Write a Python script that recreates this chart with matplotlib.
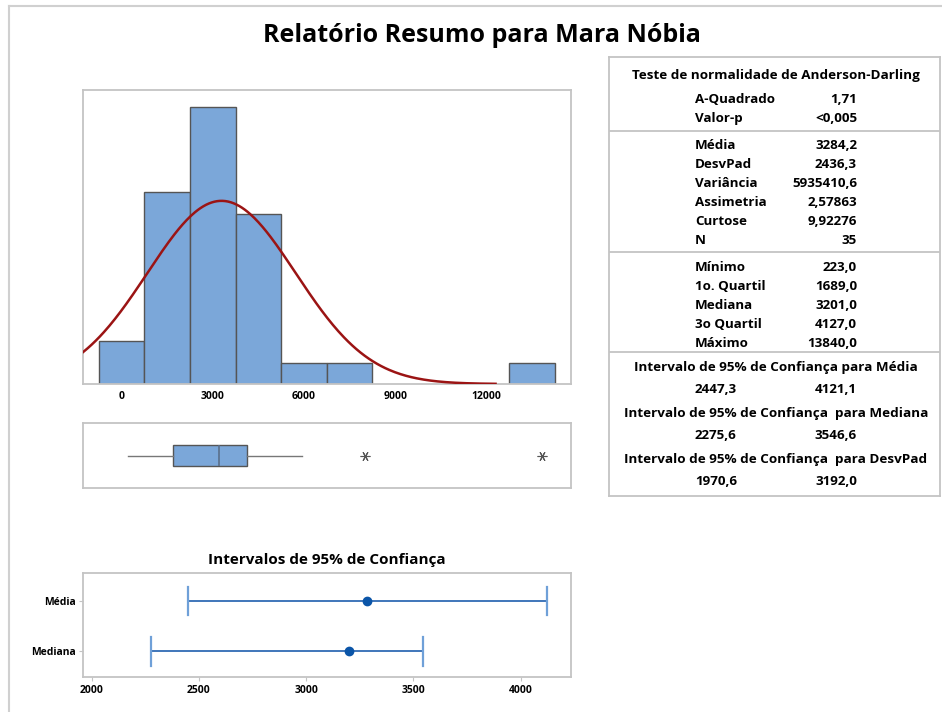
import numpy as np
import matplotlib
matplotlib.use("Agg")
import matplotlib.pyplot as plt
from matplotlib.lines import Line2D

plt.rcParams['font.family'] = ['Open Sans', 'DejaVu Sans']

W, H = 942, 712
BAR_COLOR = '#7ba7d9'
EDGE_COLOR = '#555555'
CURVE_COLOR = '#9b1414'
CI_LINE = '#1f5fae'
CI_DOT = '#0b55a8'
FRAME = '#c4c4c4'
WEIGHT = 'bold'

# histogram (bin width 1500)
bin_centers = [0, 1500, 3000, 4500, 6000, 7500, 13500]
bin_counts = [2, 9, 13, 8, 1, 1, 1]
bin_width = 1500
hist_ticks = [0, 3000, 6000, 9000, 12000]

# summary stats
n_obs = 35
mean_val = 3284.2
sd_val = 2436.3
box_min = 223.0
box_q1 = 1689.0
box_med = 3201.0
box_q3 = 4127.0
box_whishi = 5930.0
box_outliers = [8000.0, 13840.0]

# confidence intervals
ci_labels = ['Média', 'Mediana']
ci_centers = [3284.2, 3201.0]
ci_low = [2447.3, 2275.6]
ci_high = [4121.1, 3546.6]
ci_ticks = [2000, 2500, 3000, 3500, 4000]

# table text
ad_labels = ['A-Quadrado', 'Valor-p']
ad_values = ['1,71', '<0,005']
mom_labels = ['Média', 'DesvPad', 'Variância', 'Assimetria', 'Curtose', 'N']
mom_values = ['3284,2', '2436,3', '5935410,6', '2,57863', '9,92276', '35']
q_labels = ['Mínimo', '1o. Quartil', 'Mediana', '3o Quartil', 'Máximo']
q_values = ['223,0', '1689,0', '3201,0', '4127,0', '13840,0']
ci_titles = ['Intervalo de 95% de Confiança para Média',
             'Intervalo de 95% de Confiança  para Mediana',
             'Intervalo de 95% de Confiança  para DesvPad']
ci_pairs = [('2447,3', '4121,1'), ('2275,6', '3546,6'), ('1970,6', '3192,0')]


def px_axes(fig, x0, y0, x1, y1):
    # pixel box (top-left origin) -> figure axes
    return fig.add_axes([x0 / W, 1 - y1 / H, (x1 - x0) / W, (y1 - y0) / H])


def style_spines(ax):
    for s in ax.spines.values():
        s.set_color(FRAME)
        s.set_linewidth(1.3)


fig = plt.figure(figsize=(W / 100, H / 100), dpi=100)

# outer frame lines
fig.add_artist(Line2D([8.5 / W, 1], [1 - 6 / H, 1 - 6 / H], color='#d0d0d0', lw=1.5))
fig.add_artist(Line2D([8.5 / W, 8.5 / W], [0, 1 - 6 / H], color='#d0d0d0', lw=1.5))

fig.text(482 / W, 1 - 36 / H, 'Relatório Resumo para Mara Nóbia',
         ha='center', va='center', fontsize=18, fontweight=WEIGHT)

xlim = (-1263, 14782)

# histogram
ax_h = px_axes(fig, 83.3, 90, 571, 384)
ax_h.bar(bin_centers, bin_counts, width=bin_width, color=BAR_COLOR,
         edgecolor=EDGE_COLOR, linewidth=1.0, zorder=2)
xs = np.linspace(xlim[0], 12300, 300)
pdf = np.exp(-0.5 * ((xs - mean_val) / sd_val) ** 2) / (sd_val * np.sqrt(2 * np.pi))
ax_h.plot(xs, pdf * n_obs * bin_width, color=CURVE_COLOR, lw=1.8, zorder=3)
ax_h.set_xlim(xlim)
ax_h.set_ylim(0, 13.8)
ax_h.set_yticks([])
ax_h.set_xticks(hist_ticks)
ax_h.set_xticklabels([str(t) for t in hist_ticks])
ax_h.tick_params(axis='x', length=0, pad=5, labelsize=7.5)
for lbl in ax_h.get_xticklabels():
    lbl.set_fontweight(WEIGHT)
style_spines(ax_h)

# boxplot
ax_b = px_axes(fig, 83.3, 423.3, 571, 487.7)
stats = [dict(whislo=box_min, q1=box_q1, med=box_med, q3=box_q3,
              whishi=box_whishi, fliers=box_outliers)]
ax_b.bxp(stats, positions=[1], widths=0.68, vert=False, patch_artist=True,
         showcaps=False,
         boxprops=dict(facecolor=BAR_COLOR, edgecolor=EDGE_COLOR, linewidth=1.0),
         medianprops=dict(color='#5a6f8a', linewidth=1.2),
         whiskerprops=dict(color='#777777', linewidth=1.0),
         flierprops=dict(marker=(6, 2, 90), markersize=7, markeredgecolor='#555555',
                         markeredgewidth=0.8))
ax_b.set_xlim(xlim)
ax_b.set_ylim(0, 2)
ax_b.set_xticks([])
ax_b.set_yticks([])
style_spines(ax_b)

# confidence intervals plot
fig.text(327 / W, 1 - 560 / H, 'Intervalos de 95% de Confiança',
         ha='center', va='center', fontsize=11, fontweight=WEIGHT)
ax_c = px_axes(fig, 83.3, 573.3, 571, 676.7)
ypos = [1, 0]
for y, c, lo, hi in zip(ypos, ci_centers, ci_low, ci_high):
    ax_c.plot([lo, hi], [y, y], color=CI_LINE, lw=1.2, zorder=2)
    ax_c.plot([lo, lo], [y - 0.28, y + 0.28], color='#6fa0d8', lw=1.6, zorder=2)
    ax_c.plot([hi, hi], [y - 0.28, y + 0.28], color='#6fa0d8', lw=1.6, zorder=2)
    ax_c.plot([c], [y], 'o', color=CI_DOT, markersize=6, zorder=3)
ax_c.set_xlim(1961, 4235)
ax_c.set_ylim(-0.5, 1.55)
ax_c.set_yticks(ypos)
ax_c.set_yticklabels(ci_labels)
ax_c.set_xticks(ci_ticks)
ax_c.set_xticklabels([str(t) for t in ci_ticks])
ax_c.tick_params(length=3, color=FRAME, labelsize=7.5, pad=3)
ax_c.tick_params(axis='y', labelsize=7.5, pad=2)
for lbl in ax_c.get_xticklabels() + ax_c.get_yticklabels():
    lbl.set_fontweight(WEIGHT)
style_spines(ax_c)

# summary table
ax_t = px_axes(fig, 609, 57, 940, 496)
ax_t.set_xlim(609, 940)
ax_t.set_ylim(496, 57)
ax_t.set_xticks([])
ax_t.set_yticks([])
style_spines(ax_t)
for yl in [131, 252, 352]:
    ax_t.axhline(yl, color=FRAME, lw=1.3)

fs = 9.6
fs_head = 9.7
xl, xr, xc = 695, 857, 776
VA = 'center_baseline'
ax_t.text(xc, 74, 'Teste de normalidade de Anderson-Darling', ha='center', va=VA,
          fontsize=fs_head, fontweight=WEIGHT)


def rows(labels, values, y0, step=18.9):
    for i, (lb, v) in enumerate(zip(labels, values)):
        y = y0 + i * step
        ax_t.text(xl, y, lb, ha='left', va=VA, fontsize=fs, fontweight=WEIGHT)
        ax_t.text(xr, y, v, ha='right', va=VA, fontsize=fs, fontweight=WEIGHT)


rows(ad_labels, ad_values, 98)
rows(mom_labels, mom_values, 144)
rows(q_labels, q_values, 266)

for i, (title, (a, b)) in enumerate(zip(ci_titles, ci_pairs)):
    y = 366 + i * 46
    ax_t.text(xc, y, title, ha='center', va=VA, fontsize=fs_head, fontweight=WEIGHT)
    ax_t.text(xl, y + 22, a, ha='left', va=VA, fontsize=fs, fontweight=WEIGHT)
    ax_t.text(xr, y + 22, b, ha='right', va=VA, fontsize=fs, fontweight=WEIGHT)

fig.savefig('out.png', dpi=100)
